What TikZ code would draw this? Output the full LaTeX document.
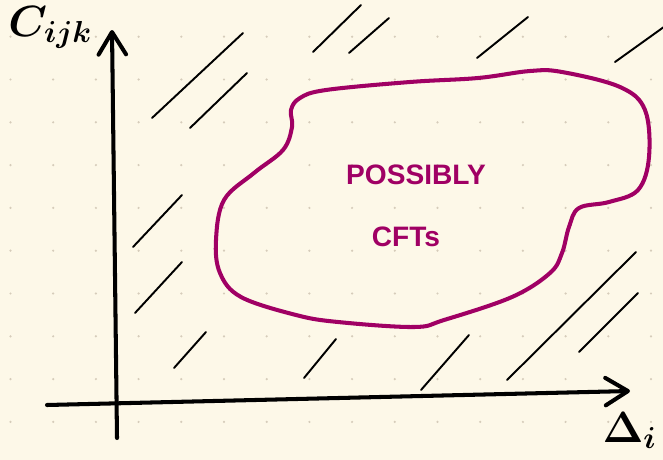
\documentclass[tikz,border=0pt]{standalone}
\usepackage{fontspec}
\newfontfamily\handfont{Liberation Sans}
\usetikzlibrary{arrows.meta}
\definecolor{paper}{RGB}{253,248,232}
\definecolor{griddot}{RGB}{214,204,186}
\definecolor{blob}{RGB}{160,0,100}

\begin{document}
\begin{tikzpicture}[x=0.02cm, y=-0.02cm, line cap=round, line join=round]

  \tikzset{axis/.style={line width=2.3pt,
                        -{Straight Barb[length=0.45cm, width=0.55cm, round]}},
           hatch/.style={line width=1.1pt},
           lbl/.style={inner sep=0pt, text=blob,
                       font=\fontsize{16}{18}\handfont\bfseries}}

  % dotted paper
  \fill[paper] (0,0) rectangle (663,460);
  \clip (0,0) rectangle (663,460);
  \foreach \i in {0,...,15}
    \foreach \j in {0,...,9}
      \fill[griddot] (10.5+42.7*\i, 36.7+42.8*\j) circle (0.7pt);

  % hatching
  \foreach \xa/\ya/\xb/\yb in {152/118/243/33, 190/128/247/73,
      313/52/361/5, 349/53/389/18, 477/58/528/17, 615/62/668/24,
      133/247/182/195, 135/313/182/262, 174/368/206/332,
      304/378/336/339, 421/390/469/335, 507/380/636/252,
      579/352/638/293}
    \draw[hatch] (\xa,\ya) -- (\xb,\yb);

  % region of possible CFTs
  \draw[blob, line width=2.3pt] plot[smooth cycle, tension=0.6] coordinates {
      (300,98) (326,90) (410,82) (478,78) (530,71) (562,72) (620,87)
      (645,110) (649,157) (638,190) (609,202) (579,208) (569,227)
      (562,253) (550,273) (512,297) (444,320) (414,327) (338,322)
      (296,315) (241,297) (220,273) (216,240) (224,200) (254,173)
      (283,150) (292,127) (291,110)};
  \node[lbl] (possibly) at (416,175) {POSSIBLY};
  \node[lbl] (cfts) at (406,237) {CFTs};

  % axes
  \coordinate (xs) at (47,405);
  \coordinate (xe) at (630,391);
  \coordinate (ys) at (117,438);
  \coordinate (ye) at (112,30);
  \draw[axis] (xs) -- (xe);
  \draw[axis] (ys) -- (ye);
  \node[anchor=north west, inner sep=0pt,
        font=\fontsize{26}{30}\selectfont\boldmath] (cijk) at (8,6) {$C_{ijk}$};
  \node[anchor=north east, inner sep=0pt,
        font=\fontsize{26}{30}\selectfont\boldmath] (delta) at (657,412) {$\Delta_i$};

\end{tikzpicture}
\end{document}
